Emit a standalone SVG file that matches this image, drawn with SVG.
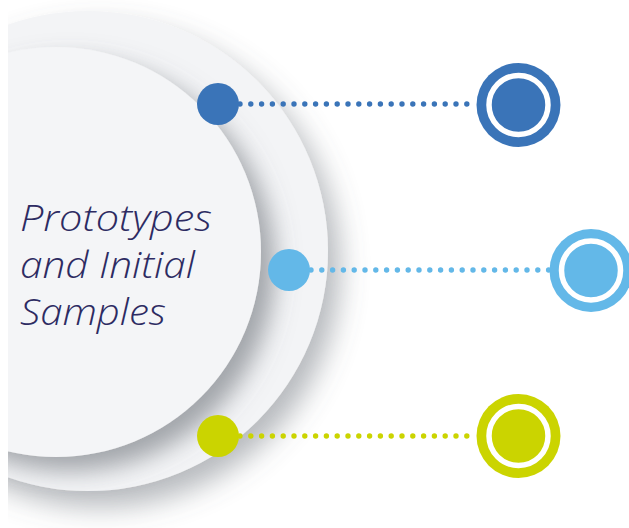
<svg xmlns="http://www.w3.org/2000/svg" width="629" height="528" viewBox="0 0 629 528">
<defs>
<clipPath id="clip"><rect x="8" y="0" width="621" height="528"/></clipPath>
<filter id="shOuter" x="-30%" y="-30%" width="160%" height="160%">
<feDropShadow dx="12" dy="16" stdDeviation="14" flood-color="#5f656d" flood-opacity="0.45"/>
</filter>
<filter id="shInner" x="-30%" y="-30%" width="160%" height="160%">
<feDropShadow dx="14" dy="14" stdDeviation="12" flood-color="#5f656d" flood-opacity="0.55"/>
</filter>
</defs>
<style>
.dot{stroke-width:5.4;stroke-linecap:round;stroke-dasharray:0 10.8;fill:none}
.lbl{font-family:"Open Sans","Liberation Sans",sans-serif;font-style:italic;font-weight:300;font-size:37px;fill:#2d2b62}
.ring{stroke:#fff;stroke-width:5.5}
</style>
<g id="background" clip-path="url(#clip)">
<circle id="outer" cx="88" cy="251" r="240" fill="#f3f4f6" filter="url(#shOuter)"/>
<circle id="inner" cx="56" cy="252" r="205" fill="#f4f5f7" filter="url(#shInner)"/>
</g>
<g id="title">
<text class="lbl" x="20" y="231" textLength="192" lengthAdjust="spacingAndGlyphs">Prototypes</text>
<text class="lbl" x="20" y="278" textLength="175" lengthAdjust="spacingAndGlyphs">and Initial</text>
<text class="lbl" x="20" y="325" textLength="146" lengthAdjust="spacingAndGlyphs">Samples</text>
</g>
<g id="connectors">
<line class="dot" x1="240" y1="104" x2="477" y2="104" stroke="#3a74b8"/>
<line class="dot" x1="311" y1="270" x2="550" y2="270" stroke="#63b8e8"/>
<line class="dot" x1="240" y1="436" x2="477" y2="436" stroke="#cbd400"/>
</g>
<g id="node-blue-start"><circle cx="218" cy="104" r="21" fill="#3a74b8"/></g>
<g id="node-lightblue-start"><circle cx="289" cy="270" r="21" fill="#63b8e8"/></g>
<g id="node-green-start"><circle cx="218" cy="436" r="21" fill="#cbd400"/></g>
<g id="node-blue-end"><circle cx="518.5" cy="105" r="42" fill="#3a74b8"/><circle class="ring" cx="518.5" cy="105" r="29.5" fill="#3a74b8"/></g>
<g id="node-lightblue-end"><circle cx="591" cy="270.5" r="41.5" fill="#63b8e8"/><circle class="ring" cx="591" cy="270.5" r="29.5" fill="#63b8e8"/></g>
<g id="node-green-end"><circle cx="518.5" cy="436" r="42" fill="#cbd400"/><circle class="ring" cx="518.5" cy="436" r="29.5" fill="#cbd400"/></g>
</svg>
